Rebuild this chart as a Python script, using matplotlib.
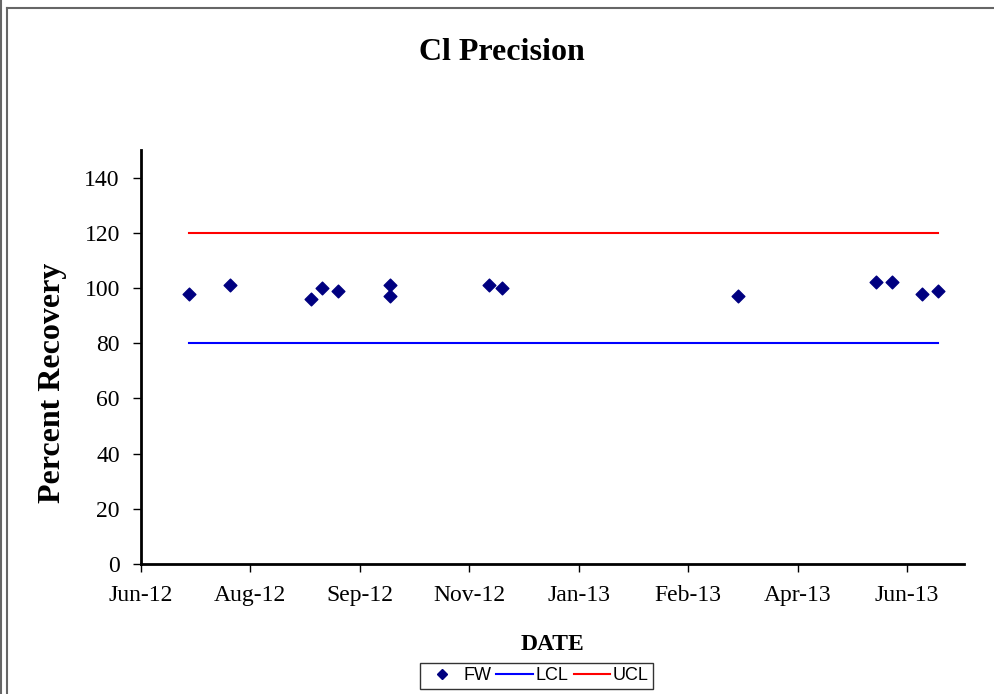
import datetime as dt
import matplotlib
matplotlib.use("Agg")
import matplotlib.pyplot as plt
import matplotlib.dates as mdates
from matplotlib.lines import Line2D

# FW sample dates and percent recovery
fw_dates = ["2012-07-12", "2012-07-31", "2012-09-06", "2012-09-11", "2012-09-18",
            "2012-10-12", "2012-10-12", "2012-11-26", "2012-12-02", "2013-03-20",
            "2013-05-22", "2013-05-29", "2013-06-12", "2013-06-19"]
fw_values = [98, 101, 96, 100, 99, 101, 97, 101, 100, 97, 102, 102, 98, 99]
lcl = 80
ucl = 120

x_start = dt.date(2012, 6, 20)
x_step_days = 50
x_span_days = 376
y_ticks = [0, 20, 40, 60, 80, 100, 120, 140]

dates = [dt.datetime.strptime(d, "%Y-%m-%d") for d in fw_dates]

serif = ["Liberation Serif", "DejaVu Serif"]

fig = plt.figure(figsize=(9.94, 6.94), dpi=100)
ax = fig.add_axes([0.1415, 0.1873, 0.8283, 0.5966])

ax.scatter(dates, fw_values, marker="D", s=42, color="#000080", zorder=3, label="FW")
ax.plot([dates[0], dates[-1]], [lcl, lcl], color="#0000ff", lw=1.5, label="LCL")
ax.plot([dates[0], dates[-1]], [ucl, ucl], color="#ff0000", lw=1.5, label="UCL")

x0 = mdates.date2num(x_start)
ax.set_xlim(x0, x0 + x_span_days)
ax.set_ylim(0, 150)
ax.set_xticks([x0 + i * x_step_days for i in range(8)])
ax.xaxis.set_major_formatter(mdates.DateFormatter("%b-%y"))
ax.set_yticks(y_ticks)

for s in ["top", "right"]:
    ax.spines[s].set_visible(False)
for s in ["left", "bottom"]:
    ax.spines[s].set_linewidth(2)
ax.tick_params(direction="out", length=6, width=1, labelsize=17)
ax.tick_params(axis="y", pad=9)
ax.tick_params(axis="x", pad=9)
for lab in ax.get_xticklabels() + ax.get_yticklabels():
    lab.set_family(serif)

ax.set_ylabel("Percent Recovery", family=serif, fontsize=23, fontweight="bold")
ax.yaxis.set_label_coords(-0.09, 0.437)
ax.set_xlabel("DATE", family=serif, fontsize=17, fontweight="bold", labelpad=20)
fig.text(0.505, 0.925, "Cl Precision", family=serif, fontsize=23, fontweight="bold",
         ha="center", va="center")

handles = [Line2D([], [], marker="D", ls="none", color="#000080", markersize=5),
           Line2D([], [], color="#0000ff", lw=1.5),
           Line2D([], [], color="#ff0000", lw=1.5)]
leg = fig.legend(handles, ["FW", "LCL", "UCL"], loc="center", bbox_to_anchor=(0.5395, 0.0265),
                 ncol=3, frameon=True, fancybox=False, handlelength=2.0,
                 columnspacing=0.3, handletextpad=0.15, borderpad=0.25,
                 prop={"family": ["Liberation Sans", "DejaVu Sans"], "size": 13})
leg.get_frame().set_edgecolor("#000000")
leg.get_frame().set_linewidth(1)

# chart border, partly cut by the screenshot
fig.add_artist(Line2D([0.0015, 0.0015], [0, 1], color="#666666", lw=1.5, transform=fig.transFigure))
fig.add_artist(Line2D([0.0075, 0.0075], [0, 0.988], color="#666666", lw=1.5, transform=fig.transFigure))
fig.add_artist(Line2D([0.0075, 1], [0.988, 0.988], color="#666666", lw=1.5, transform=fig.transFigure))

fig.savefig("out.png", dpi=100)
